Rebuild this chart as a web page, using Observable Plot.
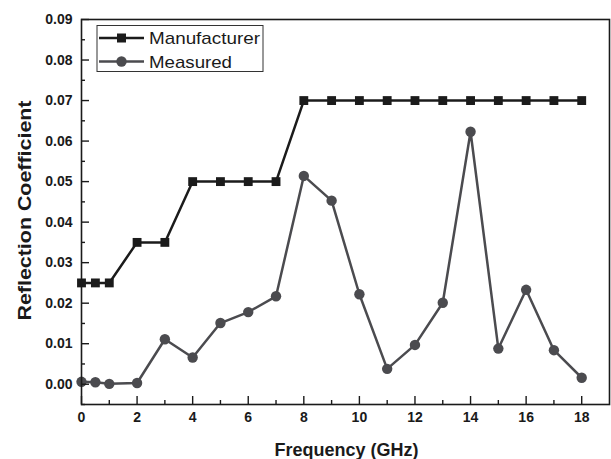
<!DOCTYPE html>
<html>
<head>
<meta charset="utf-8">
<script src="https://cdn.jsdelivr.net/npm/d3@7"></script>
<script src="https://cdn.jsdelivr.net/npm/@observablehq/plot@0.6"></script>
<style>
  html, body { margin: 0; padding: 0; background: #fff; }
  #wrap { position: relative; width: 611px; height: 459px; }
  #legend { position: absolute; left: 0; top: 0; pointer-events: none; }
</style>
</head>
<body>
<div id="wrap"></div>
<script>
// ---- data ----
const manufacturerX = [0, 0.5, 1, 2, 3, 4, 5, 6, 7, 8, 9, 10, 11, 12, 13, 14, 15, 16, 17, 18];
const manufacturerY = [0.025, 0.025, 0.025, 0.035, 0.035, 0.05, 0.05, 0.05, 0.05, 0.07, 0.07, 0.07, 0.07, 0.07, 0.07, 0.07, 0.07, 0.07, 0.07, 0.07];
const measuredX = [0, 0.5, 1, 2, 3, 4, 5, 6, 7, 8, 9, 10, 11, 12, 13, 14, 15, 16, 17, 18];
const measuredY = [0.0006, 0.0005, 0.0001, 0.0003, 0.0111, 0.0066, 0.0151, 0.0178, 0.0217, 0.0514, 0.0453, 0.0222, 0.0038, 0.0097, 0.0201, 0.0623, 0.0088, 0.0233, 0.0084, 0.0016];
const seriesNames = ["Manufacturer", "Measured"];
const xMajorTicks = [0, 2, 4, 6, 8, 10, 12, 14, 16, 18];
const xMinorTicks = [1, 3, 5, 7, 9, 11, 13, 15, 17];
const yMajorTicks = [0, 0.01, 0.02, 0.03, 0.04, 0.05, 0.06, 0.07, 0.08, 0.09];
const yMinorTicks = [-0.005, 0.005, 0.015, 0.025, 0.035, 0.045, 0.055, 0.065, 0.075, 0.085];
const xTitle = ["Frequency (GHz)"];
const yTitle = ["Reflection Coefficient"];

const manufacturer = manufacturerX.map((x, i) => ({x, y: manufacturerY[i]}));
const measured = measuredX.map((x, i) => ({x, y: measuredY[i]}));

const cMan = "#1b1b1b";
const cMeas = "#4b4b4f";
const ink = "#1a1a1a";
const font = "'Liberation Sans', Arial, sans-serif";
const blank = () => "";

const chart = Plot.plot({
  width: 611,
  height: 459,
  marginLeft: 81,
  marginRight: 2,
  marginTop: 19,
  marginBottom: 55,
  style: {fontFamily: font, fontSize: "14px", fontWeight: "bold", color: ink, background: "#fff"},
  x: {domain: [0, 19], axis: null},
  y: {domain: [-0.005, 0.09], axis: null},
  marks: [
    Plot.line(manufacturer, {x: "x", y: "y", stroke: cMan, strokeWidth: 2.5}),
    Plot.dot(manufacturer, {x: "x", y: "y", symbol: "square", r: 5, fill: cMan, stroke: "none"}),
    Plot.line(measured, {x: "x", y: "y", stroke: cMeas, strokeWidth: 2.5}),
    Plot.dot(measured, {x: "x", y: "y", symbol: "circle", r: 5.2, fill: cMeas, stroke: "none"}),
    Plot.axisX({ticks: xMajorTicks, tickSize: -8, tickFormat: blank, label: null, stroke: ink, strokeWidth: 1.4}),
    Plot.axisX({ticks: xMinorTicks, tickSize: -4, tickFormat: blank, label: null, stroke: ink, strokeWidth: 1.4}),
    Plot.axisX({ticks: xMajorTicks, tickSize: 0, tickPadding: 8, tickFormat: d => String(d), label: null, fontSize: 14, fontWeight: "bold", fill: ink}),
    Plot.axisY({ticks: yMajorTicks, tickSize: -8, tickFormat: blank, label: null, stroke: ink, strokeWidth: 1.4}),
    Plot.axisY({ticks: yMinorTicks, tickSize: -4, tickFormat: blank, label: null, stroke: ink, strokeWidth: 1.4}),
    Plot.axisY({ticks: yMajorTicks, tickSize: 0, tickPadding: 9, tickFormat: d3.format(".2f"), label: null, fontSize: 14, fontWeight: "bold", fill: ink}),
    Plot.frame({stroke: ink, strokeWidth: 1.6}),
    Plot.text(xTitle, {text: d => d, frameAnchor: "bottom", textAnchor: "middle", lineAnchor: "middle", dy: 45.5, dx: 1, fontSize: 17.5, fontWeight: "bold", fill: ink}),
    Plot.text(yTitle, {text: d => d, frameAnchor: "left", textAnchor: "middle", lineAnchor: "middle", rotate: -90, dx: -56, dy: -1.5, fontSize: 18, fontWeight: "bold", fill: ink})
  ]
});

const wrap = document.getElementById("wrap");
wrap.appendChild(chart);

// stretch axis titles to the reference's measured extents
d3.select(chart).selectAll("text")
  .filter(function () { return this.textContent === yTitle[0]; })
  .attr("textLength", 220).attr("lengthAdjust", "spacingAndGlyphs");
d3.select(chart).selectAll("text")
  .filter(function () { return this.textContent === xTitle[0]; })
  .attr("textLength", 144).attr("lengthAdjust", "spacingAndGlyphs");

// legend overlay
const lg = d3.select(wrap).append("svg")
  .attr("id", "legend")
  .attr("width", 611).attr("height", 459);
lg.append("rect").attr("x", 97).attr("y", 25.5).attr("width", 166).attr("height", 46)
  .attr("fill", "#fff").attr("stroke", "#333").attr("stroke-width", 1);
const rows = [
  {name: seriesNames[0], color: cMan, sym: "square", y: 38, len: 111},
  {name: seriesNames[1], color: cMeas, sym: "circle", y: 61.5, len: 83}
];
rows.forEach(r => {
  lg.append("line").attr("x1", 99).attr("x2", 144).attr("y1", r.y).attr("y2", r.y)
    .attr("stroke", r.color).attr("stroke-width", 2.5);
  if (r.sym === "square") {
    lg.append("rect").attr("x", 117).attr("y", r.y - 4.5).attr("width", 9).attr("height", 9).attr("fill", r.color);
  } else {
    lg.append("circle").attr("cx", 121.5).attr("cy", r.y).attr("r", 5.2).attr("fill", r.color);
  }
  lg.append("text").attr("x", 149).attr("y", r.y).attr("dy", "0.36em")
    .attr("font-family", font).attr("font-size", 17).attr("fill", ink)
    .attr("textLength", r.len).attr("lengthAdjust", "spacingAndGlyphs")
    .text(r.name);
});
</script>
</body>
</html>
